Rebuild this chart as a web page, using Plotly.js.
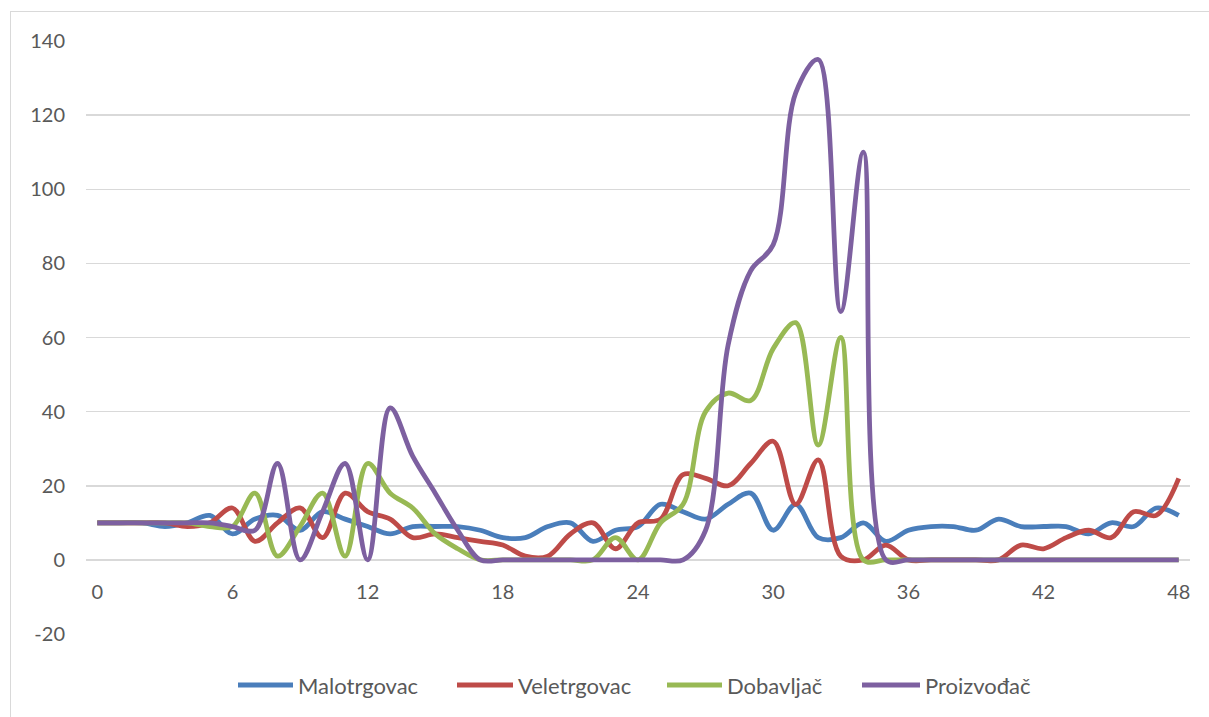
<!DOCTYPE html>
<html>
<head>
<meta charset="utf-8">
<script src="https://cdn.plot.ly/plotly-3.0.1.min.js"></script>
<style>
  html, body { margin: 0; padding: 0; background: #fff; overflow: hidden; }
  #frame { position: absolute; left: 10px; top: 11px; width: 1300px; height: 800px;
           border-left: 1px solid #d9d9d9; border-top: 1px solid #d9d9d9; pointer-events: none; }
  #chart { position: absolute; left: 0; top: 0; width: 1209px; height: 717px; }
</style>
</head>
<body>
<div id="chart"></div>
<div id="frame"></div>
<script>
// x values (hours)
const hours = [0,1,2,3,4,5,6,7,8,9,10,11,12,13,14,15,16,17,18,19,20,21,22,23,24,
               25,26,27,28,29,30,31,32,33,34,35,36,37,38,39,40,41,42,43,44,45,46,47,48];

const seriesNames = ["Malotrgovac", "Veletrgovac", "Dobavljač", "Proizvođač"];

const malotrgovac = [10,10,10,9,10,12,7,11,12,8,13,11,9,7,9,9,9,8,6,6,9,10,5,8,9,
                     15,13,11,15,18,8,15,6,6,10,5,8,9,9,8,11,9,9,9,7,10,9,14,12];

const veletrgovac = [10,10,10,10,9,10,14,5,10,14,6,18,13,11,6,7,6,5,4,1,1,7,10,3,10,
                     11,23,22,20,26,32,15,27,1,0,4,0,0,0,0,0,4,3,6,8,6,13,12,22];

const dobavljac   = [10,10,10,10,10,9,9,18,1,9,18,1,26,18,14,7,3,0,0,0,0,0,0,6,0,
                     10,15,40,45,43,57,64,31,60,0,0,0,0,0,0,0,0,0,0,0,0,0,0,0];

const proizvodjac = [10,10,10,10,10,10,9,8,26,0,13,26,0,41,28,18,8,0,0,0,0,0,0,0,0,
                     0,0,8,58,78,85,126,135,67,110,0,0,0,0,0,0,0,0,0,0,0,0,0,0];

const xTicks = [0,6,12,18,24,30,36,42,48];
const yTicks = [-20,0,20,40,60,80,100,120,140];

const colors = ["#4a7ebb", "#be4b48", "#98b954", "#7d60a0"];
const allValues = [malotrgovac, veletrgovac, dobavljac, proizvodjac];

const traces = allValues.map((vals, i) => ({
  x: hours,
  y: vals,
  name: seriesNames[i],
  type: "scatter",
  mode: "lines",
  line: { color: colors[i], width: 4.8, shape: "spline", smoothing: 1 },
  hoverinfo: "x+y+name"
}));

const W = 1209, H = 717;
const M = { l: 86, r: 19, t: 41, b: 83 };
const PW = W - M.l - M.r, PH = H - M.t - M.b;
const fx = px => (px - M.l) / PW;
const fy = py => (H - M.b - py) / PH;

// manual legend (line sample start/end, text start), pixel layout
const legendLines = [[238, 293], [457, 513], [667, 722], [862, 920]];
const legendY = 685;
const shapes = [];
const annotations = [];
seriesNames.forEach((name, i) => {
  const [a, b] = legendLines[i];
  shapes.push({
    type: "line", xref: "paper", yref: "paper",
    x0: fx(a), x1: fx(b), y0: fy(legendY), y1: fy(legendY),
    line: { color: colors[i], width: 4.8 }
  });
  annotations.push({
    xref: "paper", yref: "paper", x: fx(b + 3), y: fy(legendY),
    xanchor: "left", yanchor: "middle", showarrow: false,
    text: name,
    font: { family: "Lato, 'Open Sans', sans-serif", size: 22, color: "#595959" }
  });
});

const font = { family: "Lato, 'Open Sans', sans-serif", color: "#595959" };

const layout = {
  width: W,
  height: H,
  margin: { l: M.l, r: M.r, t: M.t, b: M.b, pad: 0, autoexpand: false },
  paper_bgcolor: "rgba(0,0,0,0)",
  plot_bgcolor: "#ffffff",
  showlegend: false,
  font: font,
  shapes: shapes,
  annotations: annotations,
  xaxis: {
    range: [-0.5, 48.5],
    tickvals: xTicks,
    ticktext: xTicks.map(String),
    showgrid: false,
    zeroline: false,
    showline: false,
    ticks: "",
    anchor: "free",
    position: 20 / 160,
    ticklabelstandoff: 18,
    automargin: false,
    tickfont: { family: font.family, size: 20, color: "#595959" }
  },
  yaxis: {
    range: [-20, 140],
    tickvals: yTicks,
    ticktext: yTicks.map(String),
    showgrid: true,
    gridcolor: "#d9d9d9",
    gridwidth: 1.5,
    zeroline: false,
    showline: false,
    ticks: "",
    ticklabelstandoff: 20,
    automargin: false,
    tickfont: { family: font.family, size: 20, color: "#595959" }
  }
};

Plotly.newPlot("chart", traces, layout, { displayModeBar: false, staticPlot: true });
</script>
</body>
</html>
